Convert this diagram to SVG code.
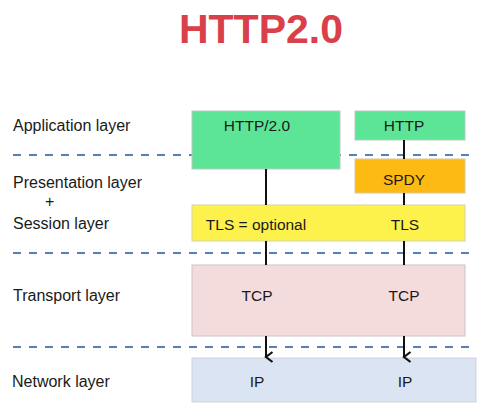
<svg xmlns="http://www.w3.org/2000/svg" width="490" height="412" viewBox="0 0 490 412">
<style>
.lbl{font-family:"Liberation Sans",Arial,sans-serif;font-size:16px;fill:#1a1a1a}
.t{font-family:"Liberation Sans",Arial,sans-serif;font-size:15.5px;fill:#1a1a1a;text-anchor:middle}
.dash{stroke:#5a80b2;stroke-width:2;stroke-dasharray:8 8;fill:none}
.ln{stroke:#111;stroke-width:2;fill:none}
</style>
<defs>
<marker id="ah" markerWidth="12" markerHeight="12" refX="6" refY="10" orient="auto" markerUnits="userSpaceOnUse" viewBox="0 0 12 12">
<path d="M1,3.5 L6,10 L11,3.5" fill="none" stroke="#111" stroke-width="2.2"/>
</marker>
</defs>
<rect width="490" height="412" fill="#ffffff"/>
<text x="261" y="43" text-anchor="middle" font-family="'Liberation Sans',Arial,sans-serif" font-weight="bold" font-size="41" fill="#d9404a">HTTP2.0</text>

<g id="labels">
<text class="lbl" x="13" y="131">Application layer</text>
<text class="lbl" x="13" y="188">Presentation layer</text>
<text class="lbl" x="45" y="207">+</text>
<text class="lbl" x="13" y="229">Session layer</text>
<text class="lbl" x="13" y="301">Transport layer</text>
<text class="lbl" x="12" y="387">Network layer</text>
</g>

<g id="separators">
<line class="dash" x1="13" y1="155" x2="476" y2="155"/>
<line class="dash" x1="13" y1="253" x2="476" y2="253"/>
<line class="dash" x1="13" y1="347" x2="476" y2="347"/>
</g>

<g id="http2">
<rect x="192" y="111" width="148" height="58" fill="#5de597" stroke="#b9c9c0" stroke-width="1"/>
<text class="t" x="257" y="131">HTTP/2.0</text>
</g>
<g id="http">
<rect x="355" y="111" width="110" height="29" fill="#5de597" stroke="#b9c9c0" stroke-width="1"/>
<text class="t" x="404" y="131">HTTP</text>
</g>
<g id="spdy">
<rect x="355" y="159" width="110" height="34" fill="#fdba12" stroke="#d9c7a0" stroke-width="1"/>
<text class="t" x="404" y="185">SPDY</text>
</g>
<g id="tls">
<rect x="192" y="205" width="273" height="36" fill="#fdf24c" stroke="#d6d3a8" stroke-width="1"/>
<text class="t" x="256" y="230">TLS = optional</text>
<text class="t" x="405" y="230">TLS</text>
</g>
<g id="tcp">
<rect x="192" y="265" width="273" height="71" fill="#f3dcdb" stroke="#cfc3c3" stroke-width="1"/>
<text class="t" x="257" y="301">TCP</text>
<text class="t" x="404" y="301">TCP</text>
</g>
<g id="ip">
<rect x="192" y="358" width="284" height="44" fill="#dbe4f2" stroke="#c8ccd4" stroke-width="0.8"/>
<text class="t" x="257" y="387">IP</text>
<text class="t" x="405" y="387">IP</text>
</g>

<g id="connectors">
<line class="ln" x1="266" y1="169" x2="266" y2="205"/>
<line class="ln" x1="266" y1="241" x2="266" y2="265"/>
<line class="ln" x1="266" y1="336" x2="266" y2="357" marker-end="url(#ah)"/>
<line class="ln" x1="404" y1="140" x2="404" y2="159"/>
<line class="ln" x1="404" y1="193" x2="404" y2="205"/>
<line class="ln" x1="404" y1="241" x2="404" y2="265"/>
<line class="ln" x1="404" y1="336" x2="404" y2="357" marker-end="url(#ah)"/>
</g>
</svg>
